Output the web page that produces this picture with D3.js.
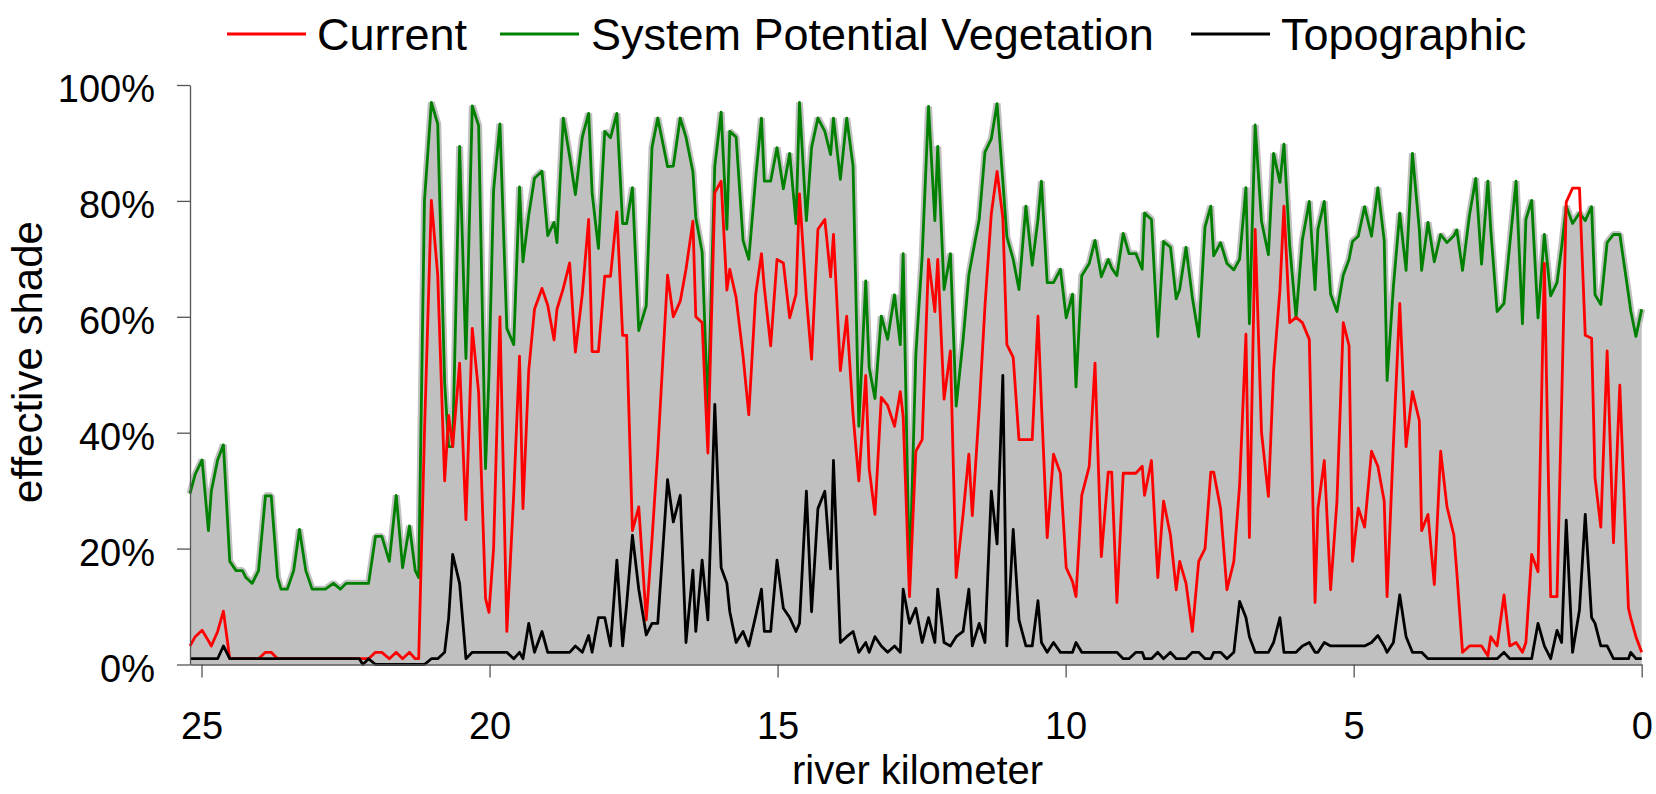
<!DOCTYPE html>
<html>
<head>
<meta charset="utf-8">
<script src="https://cdn.jsdelivr.net/npm/d3@7"></script>
<style>
  body { margin: 0; background: #fff; }
  svg text { font-family: "Liberation Sans", Arial, sans-serif; fill: #000; }
</style>
</head>
<body>
<div id="chart"></div>
<script>
// river km of each node
var km = [
  25.2, 25.11, 24.99, 24.88, 24.83, 24.72, 24.62, 24.51, 24.40, 24.29,
  24.23, 24.12, 24.01, 23.89, 23.79, 23.68, 23.62, 23.51, 23.40, 23.30,
  23.19, 23.08, 22.97, 22.85, 22.71, 22.59, 22.49, 22.38, 22.26, 22.20,
  22.10, 21.98, 21.87, 21.74, 21.62, 21.51, 21.39, 21.29, 21.23, 21.13,
  21.01, 20.90, 20.78, 20.71, 20.64, 20.52, 20.41, 20.30, 20.19, 20.07,
  20.01, 19.93, 19.82, 19.70, 19.58, 19.48, 19.42, 19.32, 19.22, 19.09,
  18.99, 18.88, 18.83, 18.72, 18.61, 18.51, 18.39, 18.28, 18.22, 18.11,
  18.00, 17.90, 17.79, 17.69, 17.62, 17.52, 17.41, 17.28, 17.18, 17.08,
  16.91, 16.81, 16.69, 16.59, 16.47, 16.42, 16.31, 16.21, 16.09, 15.98,
  15.88, 15.83, 15.72, 15.60, 15.50, 15.38, 15.28, 15.23, 15.12, 15.01,
  14.90, 14.79, 14.68, 14.62, 14.50, 14.41, 14.30, 14.18, 14.08, 14.03,
  13.91, 13.80, 13.69, 13.59, 13.47, 13.41, 13.31, 13.20, 13.09, 12.97,
  12.87, 12.82, 12.71, 12.60, 12.49, 12.38, 12.27, 12.22, 12.11, 12.00,
  11.90, 11.78, 11.68, 11.62, 11.50, 11.40, 11.29, 11.19, 11.09, 11.02,
  10.91, 10.81, 10.69, 10.58, 10.48, 10.42, 10.32, 10.21, 10.09, 9.99,
  9.88, 9.82, 9.72, 9.59, 9.49, 9.38, 9.26, 9.20, 9.11, 9.00,
  8.90, 8.78, 8.67, 8.63, 8.51, 8.40, 8.30, 8.18, 8.08, 8.02,
  7.91, 7.80, 7.69, 7.58, 7.48, 7.43, 7.31, 7.20, 7.08, 6.98,
  6.87, 6.81, 6.71, 6.60, 6.48, 6.39, 6.28, 6.21, 6.11, 6.00,
  5.89, 5.77, 5.67, 5.62, 5.51, 5.40, 5.29, 5.18, 5.08, 5.02,
  4.92, 4.81, 4.69, 4.58, 4.47, 4.42, 4.31, 4.20, 4.09, 3.98,
  3.86, 3.82, 3.71, 3.60, 3.49, 3.38, 3.26, 3.21, 3.11, 2.99,
  2.88, 2.78, 2.67, 2.62, 2.51, 2.39, 2.29, 2.18, 2.07, 2.01,
  1.91, 1.80, 1.69, 1.58, 1.47, 1.39, 1.31, 1.20, 1.08, 0.98,
  0.87, 0.81, 0.71, 0.60, 0.49, 0.38, 0.23, 0.19, 0.10, 0.00
];

// effective shade, percent
var current = [
  3.2, 4.8, 5.9, 4.1, 3.2, 5.7, 9.2, 1, 1, 1,
  1, 1, 1, 2.1, 2.1, 1, 1, 1, 1, 1,
  1, 1, 1, 1, 1, 1, 1, 1, 1, 1,
  1, 2.1, 2.1, 1, 2.1, 1, 2.1, 1, 1, 40,
  80.1, 67.2, 31.7, 43, 37.6, 52, 25, 58, 47, 11.4,
  9, 20, 60, 5.7, 29.5, 53.2, 26.9, 50.7, 61.3, 64.9,
  62, 56, 61.3, 64.9, 69.3, 53.9, 63.9, 76.8, 54, 54,
  67, 67, 78.1, 56.8, 56.8, 23.1, 27.2, 7.7, 21.6, 36.8,
  67.2, 60, 62.7, 68.2, 76.5, 60, 59, 36.5, 81.4, 83.4,
  64.6, 68.2, 63.3, 53.3, 43.1, 63.9, 70.9, 65, 55, 69.9,
  69.3, 59.8, 63.9, 81.2, 63.3, 52.7, 75.1, 76.8, 66.9, 74.2,
  50.7, 60.1, 43.1, 31.7, 49.9, 33.8, 25.9, 46.1, 44.7, 41.1,
  47.1, 42.8, 11.7, 36.8, 38.8, 69.9, 60.9, 69.9, 45.8, 54.1,
  15, 25.9, 36.3, 25.7, 44.1, 61.9, 77.8, 85.1, 77.1, 55.2,
  53, 38.8, 38.8, 38.8, 60.1, 45, 21.9, 36.3, 33, 16.7,
  14.3, 11.7, 29.2, 34.2, 52, 18.6, 33.2, 33.2, 10.7, 33,
  33, 33, 34.2, 29.2, 35.2, 15, 28.2, 22.3, 12.9, 17.8,
  14, 5.7, 17.8, 20, 33.2, 33.2, 26.9, 12.9, 17.8, 30.9,
  57, 21.9, 75.1, 40.1, 29, 50.7, 64.6, 79.1, 59, 59.9,
  59, 56.1, 10.7, 26.9, 35.2, 12.9, 28.2, 59, 55, 17.8,
  27, 23.7, 36.8, 34.2, 28.2, 11.7, 38.1, 62.3, 37.6, 47.1,
  42.1, 23.1, 25.9, 13.8, 36.8, 27.2, 22.3, 16, 2.1, 3.2,
  3.2, 3.2, 1.5, 4.8, 3.2, 12, 3.2, 3.8, 2.1, 3.8,
  19, 16, 69.2, 11.7, 11.7, 45, 79.8, 82.2, 82.2, 56.8,
  56.3, 32.2, 23.7, 54.1, 21, 48.2, 9.7, 8, 4.8, 2.1
];

var spv = [
  29.5, 32.8, 35.3, 23.1, 29.9, 35.3, 37.9, 17.8, 16.2, 16.2,
  15, 14, 16.2, 29.1, 29.1, 15, 13, 13, 16.2, 23.3,
  16.2, 13, 13, 13, 14, 13, 14, 14, 14, 14,
  14, 22.1, 22.1, 17.8, 29.2, 16.7, 23.9, 16.2, 15, 80,
  97, 93.3, 48.7, 37.6, 37.6, 89.4, 52.8, 96.4, 93, 33.8,
  50, 81.8, 93.3, 58, 55.2, 82.4, 69.5, 77.5, 83.9, 85.1,
  74, 76.3, 72.8, 94.3, 87.7, 81.1, 91, 95.1, 81.4, 71.8,
  92, 90.9, 95.1, 76.1, 76.1, 82.3, 57.6, 61.9, 89.2, 94.3,
  85.9, 86, 94.3, 91, 85, 77.1, 71.2, 43.8, 86, 95.3,
  75.1, 92, 91, 73.2, 69.9, 84, 94.3, 83.4, 83.4, 89.2,
  82.1, 88.2, 76.1, 97, 76.6, 89.2, 94.3, 92, 88, 94.3,
  83.7, 94.3, 86, 41.1, 66.2, 51.2, 45.9, 60.1, 56.1, 63.8,
  55.2, 70.9, 14, 53.5, 70.5, 96.3, 76.6, 89.4, 64.7, 70.9,
  44.6, 56, 67.2, 70.5, 76.8, 88.4, 90.7, 96.8, 83.4, 73.8,
  69.9, 64.7, 79.1, 68.9, 76.8, 83.4, 65.9, 65.9, 68.2, 59.8,
  63.9, 47.9, 67.1, 69.2, 73.2, 66.9, 69.9, 68.4, 67.1, 74.4,
  70.9, 70.9, 68.2, 77.9, 76.8, 56.6, 73, 72, 63.1, 64.7,
  72, 63.3, 56.6, 75.5, 79.1, 70.5, 72.8, 69.2, 68.1, 69.9,
  82.3, 58.8, 93.1, 76.5, 70.7, 88.2, 83.2, 89.8, 72.2, 59.9,
  73.3, 79.9, 64.7, 75.1, 79.9, 63.9, 60.9, 67.2, 69.9, 73,
  73.9, 79, 73.9, 82.3, 73.2, 49, 65.2, 77.9, 68, 88.2,
  75, 68, 76.3, 69.5, 74.2, 72.8, 74, 75, 68, 77.5,
  83.9, 69.1, 83.4, 75, 60.9, 62.3, 72.5, 83.4, 58.8, 76.8,
  80.1, 59.8, 74.2, 63.6, 65.9, 72, 79.1, 76.1, 77.9, 76.6,
  79, 63.8, 62.1, 72.8, 74.2, 74.2, 63.9, 61, 56.6, 61.3
];

var topo = [
  1, 1, 1, 1, 1, 1, 3.2, 1, 1, 1,
  1, 1, 1, 1, 1, 1, 1, 1, 1, 1,
  1, 1, 1, 1, 1, 1, 1, 1, 1, 0,
  1, 0, 0, 0, 0, 0, 0, 0, 0, 0,
  1, 1, 2.1, 8, 19, 14, 1, 2.1, 2.1, 2.1,
  2.1, 2.1, 2.1, 2.1, 1, 2.1, 1, 7.1, 2.1, 5.7,
  2.1, 2.1, 2.1, 2.1, 2.1, 3.2, 2.1, 5, 2.1, 8.1,
  8.1, 3.2, 18, 3.2, 10.4, 22.3, 13, 5.1, 7.1, 7.1,
  31.9, 24.6, 29.2, 3.8, 16.3, 5.7, 18, 7.7, 44.9, 16.7,
  14, 9.1, 3.8, 5.7, 3.2, 8.4, 13, 5.7, 5.7, 18,
  9.7, 8.1, 5.7, 7.1, 29.9, 9.1, 26.9, 29.9, 16.5, 35.2,
  3.8, 4.8, 5.7, 2.1, 3.8, 2.1, 4.8, 3.2, 2.1, 3.2,
  2.1, 13, 7.1, 9.7, 3.8, 8.1, 3.8, 13, 3.8, 3.2,
  4.8, 5.7, 13, 3.2, 7.1, 3.8, 29.9, 20.8, 49.9, 3.2,
  23.3, 7.7, 3.2, 3.2, 11, 3.8, 2.1, 3.8, 2.1, 2.1,
  2.1, 3.8, 2.1, 2.1, 2.1, 2.1, 2.1, 2.1, 2.1, 1,
  1, 2.1, 2.1, 1, 1, 2.1, 1, 2.1, 1, 1,
  1, 2.1, 2.1, 1, 1, 2.1, 2.1, 1, 2.1, 10.9,
  8.1, 4.8, 2.1, 2.1, 2.1, 3.8, 8.1, 2.1, 2.1, 2.1,
  3.2, 3.8, 2.1, 2.1, 3.8, 3.2, 3.2, 3.2, 3.2, 3.2,
  3.2, 3.2, 3.8, 5, 3.2, 2.1, 3.8, 12, 4.8, 2.1,
  2.1, 2.1, 1, 1, 1, 1, 1, 1, 1, 1,
  1, 1, 1, 1, 1, 2.1, 1, 1, 1, 1,
  1, 7.1, 3.2, 1, 5.9, 3.8, 24.9, 2.1, 9.4, 25.9,
  8.1, 7.1, 3.2, 3.2, 1, 1, 1, 2.1, 1, 1
];

var xTicks = [25, 20, 15, 10, 5, 0];
var yTicks = [0, 20, 40, 60, 80, 100];
var seriesNames = ["Current", "System Potential Vegetation", "Topographic"];
var seriesColors = ["#ff0000", "#008000", "#000000"];

var chart_width = 1656;
var chart_height = 794;

var x = d3.scaleLinear().domain([25.2, 0]).range([190, 1641.7]);
var y = d3.scaleLinear().domain([0, 100]).range([664.5, 85]);

var svg = d3.select('#chart')
            .append('svg')
            .attr('width', chart_width)
            .attr('height', chart_height);

function rows(vals) {
    return km.map(function(k, i){ return {km: k, v: vals[i]}; });
}

var line = d3.line()
    .x(function(d){ return x(d.km); })
    .y(function(d){ return y(d.v); });

var area = d3.area()
    .x(function(d){ return x(d.km); })
    .y0(y(0))
    .y1(function(d){ return y(d.v); });

// grey shade under the potential vegetation curve
svg.append('path')
   .datum(rows(spv))
   .attr('d', area)
   .attr('fill', '#c0c0c0');
svg.append('path')
   .datum(rows(spv))
   .attr('d', line)
   .attr('fill', 'none')
   .attr('stroke', '#c0c0c0')
   .attr('stroke-width', 7)
   .attr('stroke-linejoin', 'bevel');

// lines: green, red, black on top
[[spv, 1], [current, 0], [topo, 2]].forEach(function(s){
    svg.append('path')
       .datum(rows(s[0]))
       .attr('d', line)
       .attr('fill', 'none')
       .attr('stroke', seriesColors[s[1]])
       .attr('stroke-width', 2.8)
       .attr('stroke-linejoin', 'round');
});

// axes
var yAxis = svg.append('g')
    .attr('transform', 'translate(190,0)')
    .call(d3.axisLeft(y).tickValues(yTicks).tickFormat(function(d){ return d + '%'; })
          .tickSize(13).tickSizeOuter(0).tickPadding(22));
yAxis.selectAll('text')
     .attr('dy', '0.44em')
     .style('font-size', '38px')
     .style('font-family', '"Liberation Sans", Arial, sans-serif');

var xAxis = svg.append('g')
    .attr('transform', 'translate(0,' + y(0) + ')')
    .call(d3.axisBottom(x).tickValues(xTicks).tickSize(13).tickSizeOuter(0));
xAxis.selectAll('text')
     .attr('y', 74.5)
     .attr('dy', 0)
     .style('font-size', '38px')
     .style('font-family', '"Liberation Sans", Arial, sans-serif');

svg.selectAll('.domain, .tick line')
   .attr('stroke', '#555')
   .attr('stroke-width', 1.3);

// axis titles
svg.append('text')
   .attr('transform', 'translate(42,362) rotate(-90)')
   .attr('text-anchor', 'middle')
   .style('font-size', '42px')
   .text('effective shade');

svg.append('text')
   .attr('x', 917.5)
   .attr('y', 784)
   .attr('text-anchor', 'middle')
   .style('font-size', '40px')
   .text('river kilometer');

// legend
var legendX = [[227, 317], [500, 591], [1191, 1281]];
seriesNames.forEach(function(name, i){
    svg.append('line')
       .attr('x1', legendX[i][0]).attr('x2', legendX[i][0] + 79)
       .attr('y1', 34).attr('y2', 34)
       .attr('stroke', seriesColors[i])
       .attr('stroke-width', 2.8);
    svg.append('text')
       .attr('x', legendX[i][1])
       .attr('y', 50)
       .style('font-size', '45px')
       .text(name);
});
</script>
</body>
</html>
